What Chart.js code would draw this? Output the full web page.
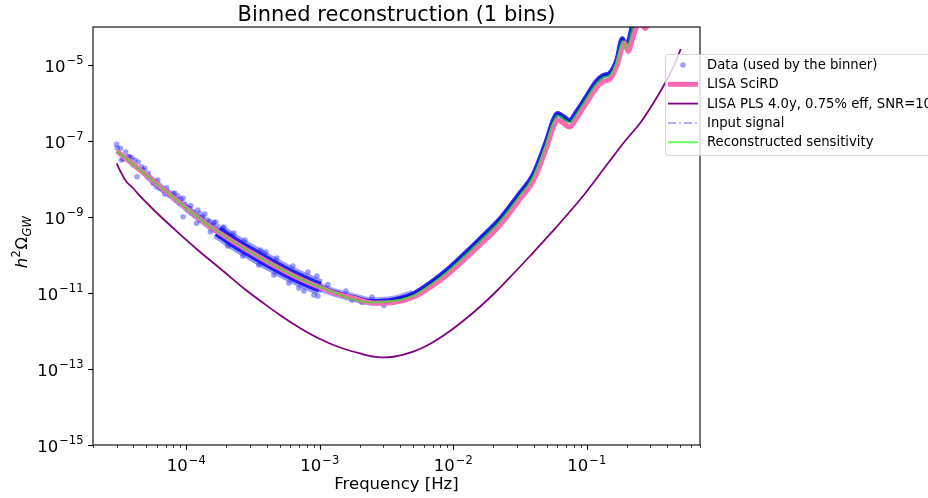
<!DOCTYPE html>
<html>
<head>
<meta charset="utf-8">
<script src="https://cdn.jsdelivr.net/npm/chart.js@4.4.1/dist/chart.umd.min.js"></script>
<style>
  html, body { margin: 0; padding: 0; background: #fff; }
</style>
</head>
<body>
<canvas id="chart" width="928" height="498"></canvas>
<script>
// all values are log10 (frequency in Hz, h^2 Omega_GW)

// scattered data points at low frequency
const scatterLogF = [-4.523, -4.517, -4.493, -4.486, -4.474, -4.454, -4.436, -4.424, -4.411, -4.399,
    -4.386, -4.369, -4.361, -4.336, -4.326, -4.311, -4.286, -4.274, -4.249, -4.236,
    -4.223, -4.214, -4.199, -4.186, -4.174, -4.161, -4.148, -4.139, -4.124, -4.111,
    -4.099, -4.086, -4.073, -4.064, -4.049, -4.041, -4.024, -4.024, -4.011, -3.999,
    -3.989, -3.974, -3.966, -3.959, -3.949, -3.936, -3.924, -3.914, -3.899, -3.895,
    -3.884, -3.874, -3.861, -3.849, -3.839, -3.824, -3.820, -3.816, -3.799, -3.794,
    -3.786, -3.779, -3.762, -3.749, -3.745,
    -3.719, -3.644, -3.561, -3.442, -3.322, -3.202, -3.089, -3.689, -3.577, -3.457,
    -3.344, -3.232, -3.119, -3.014, -2.999, -3.404, -3.157, -3.044, -3.022,
    -2.939, -2.879, -2.804, -2.759, -2.684, -2.609, -2.520];
const scatterLog = [-7.087, -7.184, -7.192, -7.500, -7.474, -7.289, -7.413, -7.413, -7.439, -7.632,
    -7.500, -7.939, -7.553, -7.676, -7.763, -7.718, -7.850, -7.974, -8.113, -8.071,
    -8.203, -8.026, -8.245, -8.245, -8.289, -8.395, -8.229, -8.342, -8.421, -8.421,
    -8.376, -8.376, -8.553, -8.447, -8.639, -8.526, -8.508, -8.992, -8.658, -8.729,
    -8.816, -8.771, -8.697, -8.895, -8.861, -8.947, -9.166, -8.816, -8.903, -9.079,
    -9.026, -8.992, -8.921, -9.166, -9.079, -9.124, -9.387, -9.237, -9.211, -9.145,
    -9.342, -9.132, -9.255, -9.387, -9.500,
    -9.263, -9.421, -9.605, -9.868, -10.079, -10.289, -10.447, -9.763, -10.026, -10.263,
    -10.526, -10.737, -10.947, -11.079, -10.921, -9.921, -10.868, -11.053, -10.553,
    -10.776, -11.013, -10.947, -11.184, -11.250, -11.105, -11.329];

// thinner run of overlapping points between 50 and 170 microHz
const trailLogF = [-4.300, -4.250, -4.100, -3.950, -3.800, -3.764];
const trailLog = [-7.900, -8.045, -8.476, -8.911, -9.303, -9.368];

// dense data cloud below 1 mHz (centre of the cloud)
const cloudLogF = [-3.764, -3.650, -3.500, -3.350, -3.200, -3.050, -2.999];
const cloudLog = [-9.368, -9.645, -9.961, -10.263, -10.539, -10.776, -10.842];

// dense data band above 1 mHz
const bandLogF = [-2.999, -2.900, -2.750, -2.600, -2.452, -2.302, -2.152, -2.047, -1.949, -1.800,
    -1.650, -1.500, -1.403, -1.300, -1.250, -1.220, -1.178, -1.129, -1.073, -1.000,
    -0.925, -0.876, -0.826, -0.775, -0.733, -0.708, -0.683, -0.658, -0.630, -0.600];
const bandLog = [-10.842, -10.974, -11.118, -11.224, -11.184, -11.026, -10.684, -10.395, -10.079, -9.579,
    -9.053, -8.368, -7.895, -6.974, -6.447, -6.276, -6.355, -6.461, -6.211, -5.816,
    -5.421, -5.276, -5.211, -4.868, -4.308, -4.526, -4.342, -3.955, -3.605, -3.342];

// LISA SciRD
const sciLogF = [-4.520, -4.400, -4.250, -4.100, -3.950, -3.800, -3.650, -3.500, -3.350, -3.200,
    -3.050, -2.900, -2.750, -2.600, -2.452, -2.302, -2.152, -2.047, -1.949, -1.800,
    -1.650, -1.500, -1.403, -1.300, -1.250, -1.220, -1.178, -1.129, -1.073, -1.000,
    -0.925, -0.876, -0.826, -0.775, -0.717, -0.690, -0.660, -0.627, -0.593, -0.563,
    -0.525, -0.488];
const sciLog = [-7.266, -7.613, -8.045, -8.476, -8.911, -9.303, -9.645, -9.961, -10.263, -10.539,
    -10.776, -10.987, -11.132, -11.263, -11.250, -11.118, -10.803, -10.526, -10.224, -9.737,
    -9.211, -8.526, -8.066, -7.158, -6.632, -6.447, -6.526, -6.632, -6.382, -5.987,
    -5.592, -5.434, -5.368, -5.026, -4.421, -4.645, -4.342, -4.000, -3.921, -4.039,
    -3.711, -3.289];

// LISA power-law sensitivity
const plsLogF = [-4.521, -4.495, -4.450, -4.399, -4.348, -4.236, -4.099, -3.914, -3.724, -3.563,
    -3.424, -3.299, -3.149, -2.999, -2.849, -2.699, -2.562, -2.437, -2.300, -2.175,
    -2.049, -1.927, -1.800, -1.675, -1.552, -1.425, -1.225, -1.028, -0.840, -0.713,
    -0.600, -0.503, -0.400, -0.338, -0.296];
const plsLog = [-7.592, -7.789, -8.066, -8.237, -8.447, -8.842, -9.289, -9.868, -10.421, -10.895,
    -11.263, -11.579, -11.921, -12.211, -12.434, -12.592, -12.690, -12.671, -12.545, -12.342,
    -12.061, -11.737, -11.361, -10.947, -10.500, -10.026, -9.255, -8.447, -7.579, -7.000,
    -6.526, -6.013, -5.395, -4.947, -4.579];

// reconstructed sensitivity
const recLogF = [-4.520, -4.400, -4.250, -4.100, -3.950, -3.800, -3.650, -3.500, -3.350, -3.200,
    -3.050, -2.900, -2.750, -2.600, -2.452, -2.302, -2.152, -2.047, -1.949, -1.800,
    -1.650, -1.500, -1.403, -1.300, -1.250, -1.220, -1.178, -1.129, -1.073, -1.000,
    -0.925, -0.876, -0.826, -0.775, -0.733, -0.708, -0.683, -0.658, -0.630, -0.600];
const recLog = [-7.266, -7.613, -8.045, -8.476, -8.911, -9.303, -9.645, -9.961, -10.263, -10.539,
    -10.776, -10.974, -11.171, -11.250, -11.211, -11.079, -10.737, -10.447, -10.132, -9.632,
    -9.105, -8.421, -7.947, -7.039, -6.500, -6.329, -6.408, -6.513, -6.263, -5.868,
    -5.474, -5.329, -5.263, -4.921, -4.368, -4.579, -4.395, -4.013, -3.658, -3.395];

// tick labels (powers of ten)
const xTickExps = [-4, -3, -2, -1];
const yTickExps = [-15, -13, -11, -9, -7, -5];

function pts(lf, lv) {
    return lf.map((f, i) => ({ x: Math.pow(10, f), y: Math.pow(10, lv[i]) }));
}

const FONT = '"DejaVu Sans", sans-serif';

function drawPower(ctx, exp, x, y, align) {
    var sup = '\u2212' + Math.abs(exp);
    ctx.font = '16.5px ' + FONT;
    var wb = ctx.measureText('10').width;
    ctx.font = '11.5px ' + FONT;
    var ws = ctx.measureText(sup).width;
    var total = wb + 1 + ws;
    var x0 = align === 'center' ? x - total / 2 : x - total;
    ctx.textAlign = 'left';
    ctx.textBaseline = 'alphabetic';
    ctx.font = '16.5px ' + FONT;
    ctx.fillText('10', x0, y);
    ctx.font = '11.5px ' + FONT;
    ctx.fillText(sup, x0 + wb + 1, y - 7.5);
}

const decor = {
    id: 'decor',
    afterDatasetsDraw(chart) {
        var ctx = chart.ctx, a = chart.chartArea;
        var xs = chart.scales.x, ys = chart.scales.y;
        ctx.save();
        ctx.fillStyle = '#000';
        ctx.strokeStyle = '#000';

        // frame
        ctx.lineWidth = 1.1;
        ctx.strokeRect(a.left, a.top, a.right - a.left, a.bottom - a.top);

        // x ticks: majors and minors
        for (var e = -5; e <= 0; e++) {
            for (var k = 1; k <= 9; k++) {
                var v = k * Math.pow(10, e);
                if (v < xs.min * 0.999 || v > xs.max * 1.001) continue;
                var px = Math.round(xs.getPixelForValue(v)) + 0.5;
                ctx.lineWidth = k === 1 ? 1.1 : 0.8;
                ctx.beginPath();
                ctx.moveTo(px, a.bottom);
                ctx.lineTo(px, a.bottom + (k === 1 ? 4.9 : 2.8));
                ctx.stroke();
            }
        }
        xTickExps.forEach(function(ex) {
            drawPower(ctx, ex, xs.getPixelForValue(Math.pow(10, ex)), 471, 'center');
        });

        // y ticks
        yTickExps.forEach(function(ex) {
            var py = Math.round(ys.getPixelForValue(Math.pow(10, ex))) + 0.5;
            ctx.lineWidth = 1.1;
            ctx.beginPath();
            ctx.moveTo(a.left, py);
            ctx.lineTo(a.left - 4.9, py);
            ctx.stroke();
            drawPower(ctx, ex, a.left - 9.5, py + 6, 'right');
        });

        // title and axis labels
        ctx.textAlign = 'center';
        ctx.textBaseline = 'alphabetic';
        ctx.font = '21px ' + FONT;
        ctx.fillText('Binned reconstruction (1 bins)', (a.left + a.right) / 2, 20.5);
        ctx.font = '16.5px ' + FONT;
        ctx.fillText('Frequency [Hz]', (a.left + a.right) / 2, 489);

        // y label: h^2 Omega_GW
        ctx.translate(21, (a.top + a.bottom) / 2 + 6);
        ctx.rotate(-Math.PI / 2);
        var parts = [
            { t: 'h', f: 'italic 16.5px ' + FONT, dy: 0 },
            { t: '2', f: '11.5px ' + FONT, dy: -7.5 },
            { t: '\u03A9', f: '16.5px ' + FONT, dy: 0 },
            { t: 'GW', f: 'italic 11.5px ' + FONT, dy: 3.5 }
        ];
        var tw = 0;
        parts.forEach(function(p) { ctx.font = p.f; p.w = ctx.measureText(p.t).width; tw += p.w + 0.5; });
        var cx = -tw / 2;
        ctx.textAlign = 'left';
        parts.forEach(function(p) { ctx.font = p.f; ctx.fillText(p.t, cx, 6 + p.dy); cx += p.w + 0.5; });
        ctx.restore();
    },
    afterDraw(chart) {
        // legend box, partly outside the canvas like the original
        var ctx = chart.ctx;
        var items = chart.data.datasets.filter(function(d) { return d.legendRank; })
            .sort(function(p, q) { return p.legendRank - q.legendRank; });
        var bx = 665.5, by = 54.5, bh = 101, bw = 320, r = 3;
        ctx.save();
        ctx.beginPath();
        ctx.moveTo(bx + r, by);
        ctx.lineTo(bx + bw, by);
        ctx.lineTo(bx + bw, by + bh);
        ctx.lineTo(bx + r, by + bh);
        ctx.arcTo(bx, by + bh, bx, by + bh - r, r);
        ctx.lineTo(bx, by + r);
        ctx.arcTo(bx, by, bx + r, by, r);
        ctx.closePath();
        ctx.fillStyle = 'rgba(255,255,255,0.8)';
        ctx.fill();
        ctx.strokeStyle = 'rgba(204,204,204,0.8)';
        ctx.lineWidth = 1;
        ctx.stroke();

        ctx.font = '13.2px ' + FONT;
        ctx.textBaseline = 'middle';
        ctx.textAlign = 'left';
        items.forEach(function(d, i) {
            var yc = 65 + i * 19.3;
            if (d.legendKind === 'dot') {
                ctx.fillStyle = d.backgroundColor;
                ctx.beginPath();
                ctx.arc(683, yc, d.pointRadius, 0, Math.PI * 2);
                ctx.fill();
            } else {
                ctx.strokeStyle = d.borderColor;
                ctx.lineWidth = d.borderWidth;
                ctx.setLineDash(d.borderDash || []);
                ctx.beginPath();
                ctx.moveTo(668, yc);
                ctx.lineTo(698, yc);
                ctx.stroke();
                ctx.setLineDash([]);
            }
            ctx.fillStyle = '#000';
            ctx.fillText(d.label, 707, yc + 0.5);
        });
        ctx.restore();
    }
};

const lineBase = { pointRadius: 0, fill: false, cubicInterpolationMode: 'monotone', borderCapStyle: 'butt' };

new Chart(document.getElementById('chart'), {
    type: 'line',
    data: {
        datasets: [
            Object.assign({}, lineBase, {
                label: 'Reconstructed sensitivity', legendKind: 'line', legendRank: 5, order: 0,
                data: pts(recLogF, recLog),
                borderColor: 'rgba(0,255,0,0.6)', borderWidth: 2
            }),
            Object.assign({}, lineBase, {
                label: 'Input signal', legendKind: 'line', legendRank: 4, order: 1,
                data: [],
                borderColor: 'rgba(0,0,255,0.4)', borderWidth: 1.5, borderDash: [8, 3, 2, 3]
            }),
            Object.assign({}, lineBase, {
                label: 'LISA PLS 4.0y, 0.75% eff, SNR=10', legendKind: 'line', legendRank: 3, order: 2,
                data: pts(plsLogF, plsLog),
                cubicInterpolationMode: 'default', tension: 0.35,
                borderColor: '#800080', borderWidth: 1.8
            }),
            Object.assign({}, lineBase, {
                label: 'LISA SciRD', legendKind: 'line', legendRank: 2, order: 3,
                data: pts(sciLogF, sciLog),
                borderColor: '#ff69b4', borderWidth: 5
            }),
            Object.assign({}, lineBase, {
                label: 'data core', order: 4,
                data: pts(bandLogF, bandLog),
                borderColor: 'rgba(0,0,130,0.55)', borderWidth: 1.6
            }),
            Object.assign({}, lineBase, {
                label: 'data band', order: 5,
                data: pts(bandLogF, bandLog),
                borderColor: 'rgba(0,0,255,0.85)', borderWidth: 5
            }),
            Object.assign({}, lineBase, {
                label: 'data band halo', order: 6,
                data: pts(bandLogF.slice(0, 6), bandLog.slice(0, 6)),
                borderColor: 'rgba(0,0,255,0.35)', borderWidth: 8.5
            }),
            Object.assign({}, lineBase, {
                label: 'data cloud', order: 7,
                data: pts(cloudLogF, cloudLog),
                borderColor: 'rgba(0,0,255,0.8)', borderWidth: 11
            }),
            Object.assign({}, lineBase, {
                label: 'data cloud halo', order: 8,
                data: pts(cloudLogF, cloudLog),
                borderColor: 'rgba(0,0,255,0.4)', borderWidth: 16
            }),
            Object.assign({}, lineBase, {
                label: 'data trail', order: 9,
                data: pts(trailLogF, trailLog),
                borderColor: 'rgba(0,0,255,0.3)', borderWidth: 7
            }),
            {
                label: 'Data (used by the binner)', legendKind: 'dot', legendRank: 1, order: 10,
                data: pts(scatterLogF, scatterLog),
                showLine: false, pointRadius: 2.8, pointBorderWidth: 0,
                backgroundColor: 'rgba(0,0,255,0.38)', borderColor: 'rgba(0,0,255,0)'
            }
        ]
    },
    options: {
        responsive: false,
        animation: false,
        events: [],
        layout: { padding: { left: 93, top: 27, right: 228, bottom: 53 } },
        plugins: {
            legend: { display: false },
            title: { display: false },
            tooltip: { enabled: false }
        },
        scales: {
            x: { type: 'logarithmic', min: 2e-5, max: 0.705, display: false },
            y: { type: 'logarithmic', min: 1e-15, max: 1e-4, display: false }
        }
    },
    plugins: [decor]
});
</script>
</body>
</html>
